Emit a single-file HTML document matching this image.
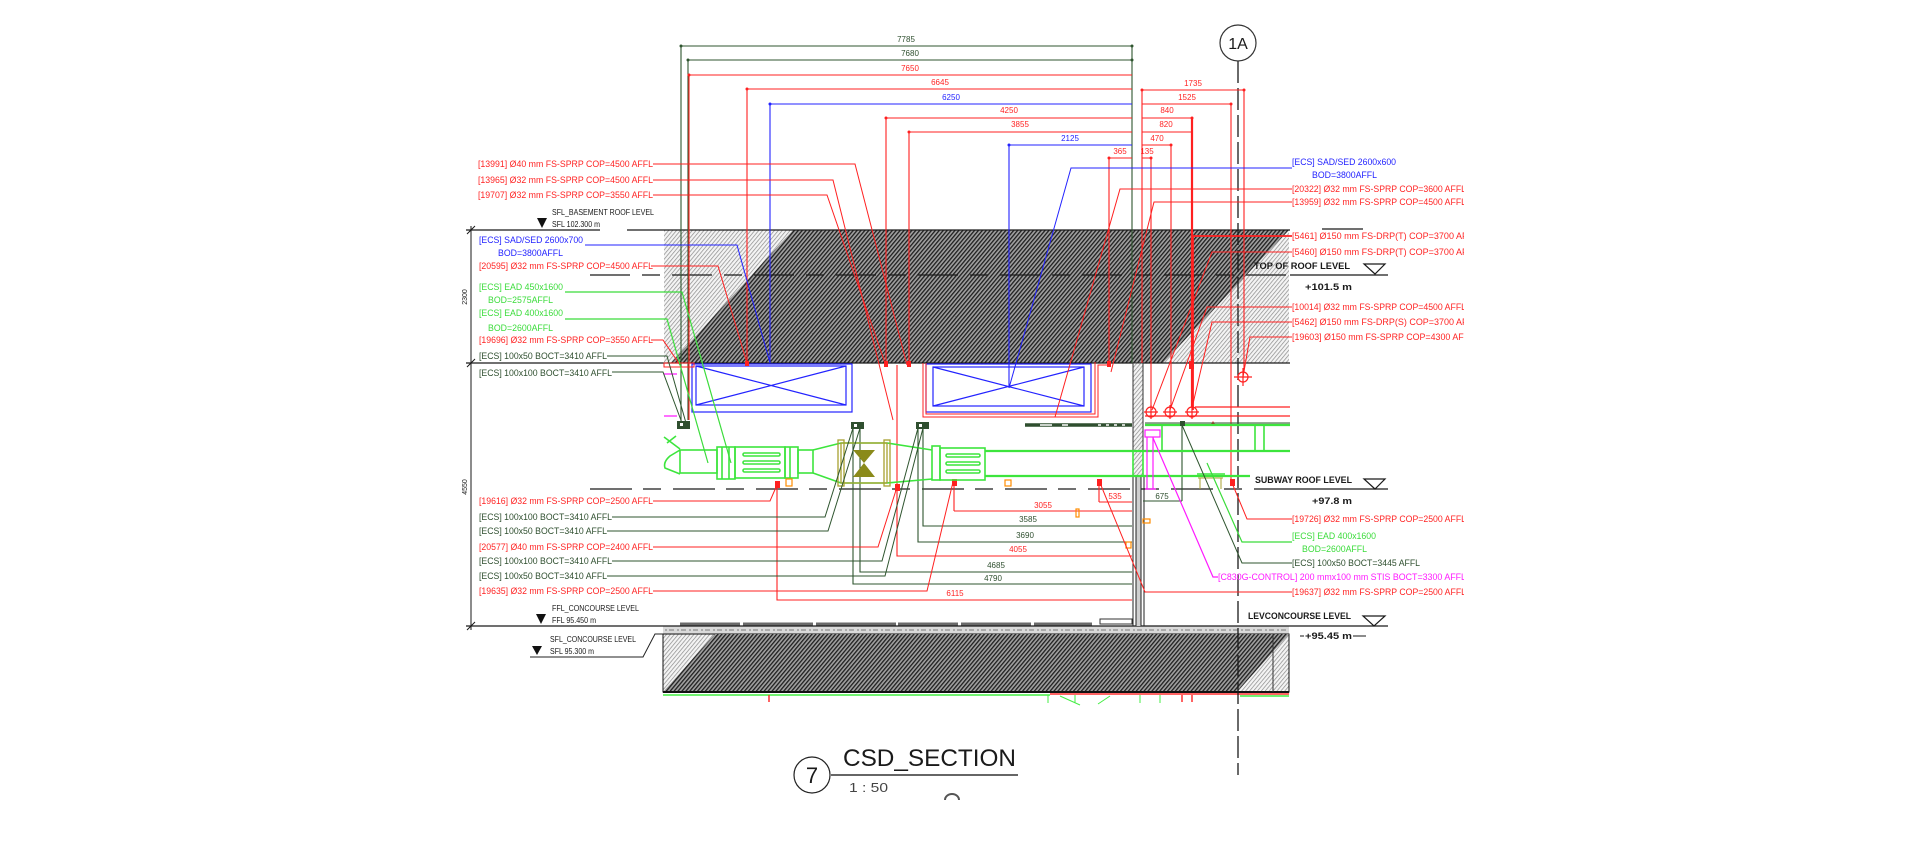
<!DOCTYPE html>
<html><head><meta charset="utf-8"><style>
html,body{margin:0;padding:0;background:#fff;}
svg{display:block;}
text{font-family:"Liberation Sans",sans-serif;}
.r{fill:#ff2424}.b{fill:#2323ff}.g{fill:#3bdc3b}.d{fill:#2f4f2f}.k{fill:#1a1a1a}.m{fill:#ff1aff}
</style></head><body>
<svg width="1921" height="841" viewBox="0 0 1921 841" xmlns="http://www.w3.org/2000/svg">
<defs>
<pattern id="hd" width="3" height="3" patternUnits="userSpaceOnUse" patternTransform="rotate(40)">
<rect width="3" height="3" fill="#a0a0a0"/><rect width="1.3" height="3" fill="#1e1e1e"/></pattern>
<pattern id="hl" width="3" height="3" patternUnits="userSpaceOnUse" patternTransform="rotate(40)">
<rect width="3" height="3" fill="#f4f4f4"/><rect width="0.7" height="3" fill="#8a8a8a"/></pattern>
<clipPath id="cr"><rect x="0" y="0" width="1464" height="841"/></clipPath>
</defs>
<rect width="1921" height="841" fill="#fff"/>

<!-- top slab -->
<rect x="664" y="230" width="625" height="133" fill="url(#hl)"/>
<polygon points="793,230 1289,230 1163,363 671,363" fill="url(#hd)"/>
<!-- bottom slab -->
<rect x="663" y="626" width="626" height="8" fill="#dadada"/>
<path d="M665,630H1289" stroke="#aaa" stroke-width="2" stroke-dasharray="2 2 5 3"/>
<rect x="663" y="634" width="626" height="58" fill="url(#hl)" stroke="#111" stroke-width="1"/>
<polygon points="715,634 1289,634 1237,692 663,692" fill="url(#hd)"/>
<path d="M663,692H1289" stroke="#111" stroke-width="2"/>
<path d="M1273,634V692" stroke="#333"/>
<path d="M530,657H643L655,634H663" stroke="#222" fill="none"/>
<path d="M680,624H1092" stroke="#6a6a6a" stroke-width="3" stroke-dasharray="60 3 70 3 80 2"/>
<!-- below slab -->
<path d="M663,695H1050" stroke="#44ee44" stroke-width="1.5"/>
<path d="M1050,694H1289" stroke="#ff3030" stroke-width="1.5"/>
<path d="M1240,696H1289" stroke="#44ee44" stroke-width="1.5"/>
<path d="M1048,695V703 M1075,695V703 M1140,695V703 M1160,695V703 M1060,696L1080,705 M1098,704L1110,696" stroke="#44ee44"/>
<path d="M769,695V702 M1182,695V702 M1192,695V702" stroke="#ff3030" stroke-width="1.5"/>

<!-- levels lines -->
<g stroke="#1a1a1a" fill="none">
<path d="M466,230H600 M627,230H1290 M1322,229H1363" stroke-width="1.2"/>
<path d="M466,363H1290" stroke-width="1.2"/>
<path d="M466,626H1388" stroke-width="1.2"/>
<path d="M471,226V630 M467,234L475,226 M467,367L475,359 M467,630L475,622"/>
<path d="M590,275H1290" stroke-width="1.3" stroke-dasharray="40 12 18 12"/>
<path d="M1290,275H1388" stroke-width="1.2"/>
<path d="M590,489H1290" stroke-width="1.3" stroke-dasharray="42 11 18 12"/>
<path d="M1290,489H1388" stroke-width="1.2"/>
<path d="M1364,264H1385L1375,274Z M1364,479H1385L1375,489Z M1363,616H1385L1374,626Z" stroke-width="1.2"/>
<path d="M1238,61V775" stroke-width="1.3" stroke-dasharray="22 5"/>
<path d="M1300,636H1304 M1353,636H1366"/>
</g>
<polygon points="537,218 547,218 542,228" fill="#111"/>
<polygon points="536,614 546,614 541,624" fill="#111"/>
<polygon points="532,646 542,646 537,655" fill="#111"/>
<text transform="translate(467,297) rotate(-90)" text-anchor="middle" font-size="7" class="k">2300</text>
<text transform="translate(467,487) rotate(-90)" text-anchor="middle" font-size="7" class="k">4550</text>

<!-- column -->
<rect x="1133" y="363" width="10" height="113" fill="url(#hl)" stroke="#333"/>
<rect x="1136" y="476" width="5" height="150" fill="#cfcfcf"/>
<path d="M1133,476V626 M1136,476V626 M1141,476V626 M1144,476V626" stroke="#222"/>
<rect x="1100" y="619" width="32" height="5" fill="none" stroke="#333"/>

<!-- blue boxes -->
<g stroke="#2323ff" fill="none" stroke-width="1.2">
<rect x="692" y="364" width="160" height="48"/>
<rect x="696" y="366" width="150" height="39"/>
<path d="M696,366L846,405 M696,405L846,366"/>
<rect x="926" y="364" width="165" height="48"/>
<rect x="933" y="367" width="151" height="39"/>
<path d="M933,367L1084,406 M933,406L1084,367"/>
</g>

<!-- dimension lines top -->
<g fill="none" stroke-width="1.1">
<path d="M681,46H1132 M688,60H1132 M681,46V424 M688,60V420 M1132,46V363" stroke="#2f552f"/>
<path d="M689,75H1132 M747,89H1132 M886,118H1132 M909,132H1132 M1109,158H1132 M689,75V420 M747,89V366 M886,118V366 M909,132V366 M1109,158V366" stroke="#ff2020"/>
<path d="M1142,90H1244 M1142,104H1231 M1142,118H1192 M1142,132H1191 M1142,145H1171 M1142,158H1151 M1142,90V363 M1244,90V372 M1231,104V483 M1171,145V407 M1151,158V407" stroke="#ff2020"/>
<path d="M1192,118V407" stroke="#ff2020" stroke-width="2.2"/>
<path d="M770,104H1132 M770,104V363 M1009,145H1132 M1009,145V388" stroke="#2323ff"/>
</g>
<g fill="#ff2020">
<circle cx="689" cy="75" r="1.5"/><circle cx="747" cy="89" r="1.5"/><circle cx="886" cy="118" r="1.5"/><circle cx="909" cy="132" r="1.5"/><circle cx="1109" cy="158" r="1.5"/>
<circle cx="1142" cy="90" r="1.5"/><circle cx="1244" cy="90" r="1.5"/><circle cx="1231" cy="104" r="1.5"/><circle cx="1192" cy="118" r="1.5"/><circle cx="1171" cy="145" r="1.5"/><circle cx="1151" cy="158" r="1.5"/>
<rect x="745" y="361" width="4" height="5"/><rect x="884" y="361" width="4" height="6"/><rect x="907" y="361" width="4" height="6"/><rect x="1107" y="361" width="4" height="6"/><rect x="1189" y="361" width="5" height="8"/>
<rect x="775" y="481" width="5" height="7"/><rect x="895" y="484" width="5" height="7"/><rect x="952" y="479" width="5" height="7"/><rect x="1097" y="479" width="5" height="7"/><rect x="1230" y="479" width="5" height="7"/>
<polygon points="1210,426 1216,426 1213,421"/>
</g>
<g fill="#2f552f"><circle cx="681" cy="46" r="1.5"/><circle cx="688" cy="60" r="1.5"/><circle cx="1132" cy="46" r="1.5"/><circle cx="1132" cy="60" r="1.5"/></g>
<g fill="#2323ff"><circle cx="770" cy="104" r="1.5"/><circle cx="1009" cy="145" r="1.5"/></g>

<!-- dim texts -->
<g font-size="8" text-anchor="middle">
<text x="906" y="42" class="d">7785</text>
<text x="910" y="56" class="d">7680</text>
<text x="910" y="71" class="r">7650</text>
<text x="940" y="85" class="r">6645</text>
<text x="951" y="100" class="b">6250</text>
<text x="1009" y="113" class="r">4250</text>
<text x="1020" y="127" class="r">3855</text>
<text x="1070" y="141" class="b">2125</text>
<text x="1120" y="154" class="r">365</text>
<text x="1193" y="86" class="r">1735</text>
<text x="1187" y="100" class="r">1525</text>
<text x="1167" y="113" class="r">840</text>
<text x="1166" y="127" class="r">820</text>
<text x="1157" y="141" class="r">470</text>
<text x="1147" y="154" class="r">135</text>
<text x="1115" y="499" class="r">535</text>
<text x="1162" y="499" class="d">675</text>
<text x="1043" y="508" class="r">3055</text>
<text x="1028" y="522" class="d">3585</text>
<text x="1025" y="538" class="d">3690</text>
<text x="1018" y="552" class="r">4055</text>
<text x="996" y="568" class="d">4685</text>
<text x="993" y="581" class="d">4790</text>
<text x="955" y="596" class="r">6115</text>
</g>

<!-- lower dims -->
<g fill="none" stroke-width="1.1">
<path d="M1099,502H1132 M1099,483V502 M954,511H1132 M954,483V511 M897,365V556H1132 M777,485V600H1132" stroke="#ff2020"/>
<path d="M923,428V526H1132 M918,428V542H1132 M860,428V572H1132 M853,428V584H1132 M1143,501H1182 M1182,425V501" stroke="#2f552f"/>
</g>

<!-- red L lines around box 2 -->
<path d="M923,363V417H1098V365H1111 M926,363V414H1095V362" stroke="#ff2020" fill="none"/>
<rect x="664" y="363" width="30" height="4" fill="none" stroke="#ff2020"/>

<!-- duct -->
<g fill="none" stroke="#3de53d" stroke-width="1.6">
<path d="M664,437L680,449 M667,443L676,436"/>
<path d="M680,450L670,456Q663,462 665,468L680,474"/>
<rect x="680" y="450" width="37" height="23"/>
<rect x="717" y="447" width="18" height="32"/>
<path d="M722,447V479 M729,447V479"/>
<rect x="735" y="447" width="50" height="31"/>
<rect x="743" y="453" width="37" height="3" rx="1.5"/>
<rect x="743" y="461" width="37" height="3" rx="1.5"/>
<rect x="743" y="469" width="37" height="3" rx="1.5"/>
<rect x="785" y="447" width="13" height="31"/>
<path d="M790,447V478"/>
<rect x="798" y="450" width="15" height="23"/>
<path d="M813,450L841,443 M813,473L841,483 M841,443H887 M841,483H887"/>
<path d="M887,443L932,450 M887,483L932,479"/>
<rect x="932" y="446" width="8" height="34"/>
<rect x="940" y="448" width="45" height="32"/>
<rect x="946" y="454" width="34" height="3" rx="1.5"/>
<rect x="946" y="462" width="34" height="3" rx="1.5"/>
<rect x="946" y="470" width="34" height="3" rx="1.5"/>
<path d="M985,451H1290 M985,476H1250" stroke-width="2.2"/>
<path d="M1145,425H1290" stroke-width="2.2"/>
<path d="M1162,425V451 M1255,425V451 M1264,425V451"/>
<rect x="1133" y="451" width="10" height="25"/>
<path d="M1197,474H1225"/>
</g>
<path d="M1145,423H1290" stroke="#2f552f"/>
<path d="M1200,478V489 M1221,478V489 M1198,478H1223" stroke="#a8a030"/>
<g stroke="#a8a030" fill="none" stroke-width="1.3">
<rect x="841" y="443" width="46" height="40"/>
<rect x="838" y="440" width="6" height="46"/>
<rect x="884" y="440" width="6" height="46"/>
</g>
<path d="M853,450H875L864,463L875,477H853L864,463Z" fill="#8a8a1a"/>

<!-- dark green dashed top line -->
<path d="M1025,425H1132" stroke="#2f4f2f" stroke-width="3.5"/>
<path d="M1040,425H1052 M1062,425H1068 M1098,425H1101 M1106,425H1109 M1114,425H1117 M1122,425H1125" stroke="#fff" stroke-width="1.5"/>

<!-- dark green symbols -->
<g fill="#2f4f2f">
<rect x="677" y="421" width="13" height="8"/><rect x="851" y="422" width="13" height="7"/><rect x="916" y="422" width="13" height="7"/><rect x="1180" y="421" width="5" height="5"/>
</g>
<g fill="#fff"><rect x="680" y="423" width="3" height="3"/><rect x="854" y="424" width="3" height="3"/><rect x="919" y="424" width="3" height="3"/></g>

<!-- orange -->
<g fill="none" stroke="#ff8c00" stroke-width="1.2">
<rect x="786" y="479" width="6" height="7"/><rect x="1005" y="480" width="6" height="6"/><rect x="1076" y="509" width="3" height="8"/><rect x="1126" y="542" width="5" height="6"/><rect x="1143" y="519" width="7" height="4"/>
</g>

<!-- magenta -->
<g fill="none" stroke="#ff1aff" stroke-width="1.2">
<path d="M664,374H677 M664,416H677"/>
<rect x="1145" y="430" width="15" height="7"/>
<path d="M1147,437V489 M1153,437V489 M1145,489H1156"/>
<path d="M1218,577H1213L1153,438"/>
</g>

<!-- sprinklers -->
<g fill="none" stroke="#ff2020" stroke-width="1.2">
<circle cx="1151" cy="412" r="5"/><circle cx="1170" cy="412" r="5"/><circle cx="1192" cy="412" r="5"/><circle cx="1243" cy="377" r="5"/>
<path d="M1144,412H1158 M1151,405V419 M1163,412H1177 M1170,405V419 M1185,412H1199 M1192,405V419 M1234,377H1252 M1243,368V386"/>
<path d="M1195,407H1290 M1145,416H1290"/>
</g>

<!-- leaders -->
<g fill="none" stroke-width="1">
<path stroke="#ff2020" d="M653,164H855L907,365 M653,180H833L893,420 M653,195H827L886,366 M651,266H718L747,363 M651,340H663L680,365 M653,501H770L777,485 M653,547H878L897,487 M653,591H927L953,482 M1292,189H1120L1055,417 M1292,202H1154L1111,372 M1292,252H1212L1152,410 M1292,307H1207L1170,410 M1292,322H1212L1192,408 M1292,337H1250L1243,377 M1292,519H1247L1232,483 M1292,592H1145L1100,483"/>
<path stroke="#ff2020" stroke-width="1.8" d="M1292,236H1193V410"/>
<path stroke="#2323ff" d="M585,245H737L770,363 M1292,168H1071L1009,388"/>
<path stroke="#3bdc3b" stroke-width="1.2" d="M565,292H682L731,463 M565,319H667L708,463 M1292,542H1242L1207,463"/>
<path stroke="#2f552f" d="M607,356H667L686,423 M612,372H663L682,423 M612,517H825L853,428 M607,531H828L860,428 M612,561H882L918,428 M607,576H885L923,428 M1292,563H1242L1182,425"/>
</g>

<!-- left labels -->
<g font-size="9">
<text x="478" y="167" class="r" textLength="175" lengthAdjust="spacingAndGlyphs">[13991] Ø40 mm FS-SPRP COP=4500 AFFL</text>
<text x="478" y="183" class="r" textLength="175" lengthAdjust="spacingAndGlyphs">[13965] Ø32 mm FS-SPRP COP=4500 AFFL</text>
<text x="478" y="198" class="r" textLength="175" lengthAdjust="spacingAndGlyphs">[19707] Ø32 mm FS-SPRP COP=3550 AFFL</text>
<text x="479" y="243" class="b" textLength="104" lengthAdjust="spacingAndGlyphs">[ECS] SAD/SED 2600x700</text>
<text x="498" y="256" class="b" textLength="65" lengthAdjust="spacingAndGlyphs">BOD=3800AFFL</text>
<text x="479" y="269" class="r" textLength="174" lengthAdjust="spacingAndGlyphs">[20595] Ø32 mm FS-SPRP COP=4500 AFFL</text>
<text x="479" y="290" class="g" textLength="84" lengthAdjust="spacingAndGlyphs">[ECS] EAD 450x1600</text>
<text x="488" y="303" class="g" textLength="65" lengthAdjust="spacingAndGlyphs">BOD=2575AFFL</text>
<text x="479" y="316" class="g" textLength="84" lengthAdjust="spacingAndGlyphs">[ECS] EAD 400x1600</text>
<text x="488" y="331" class="g" textLength="65" lengthAdjust="spacingAndGlyphs">BOD=2600AFFL</text>
<text x="479" y="343" class="r" textLength="174" lengthAdjust="spacingAndGlyphs">[19696] Ø32 mm FS-SPRP COP=3550 AFFL</text>
<text x="479" y="359" class="d" textLength="128" lengthAdjust="spacingAndGlyphs">[ECS] 100x50 BOCT=3410 AFFL</text>
<text x="479" y="376" class="d" textLength="133" lengthAdjust="spacingAndGlyphs">[ECS] 100x100 BOCT=3410 AFFL</text>
<text x="479" y="504" class="r" textLength="174" lengthAdjust="spacingAndGlyphs">[19616] Ø32 mm FS-SPRP COP=2500 AFFL</text>
<text x="479" y="520" class="d" textLength="133" lengthAdjust="spacingAndGlyphs">[ECS] 100x100 BOCT=3410 AFFL</text>
<text x="479" y="534" class="d" textLength="128" lengthAdjust="spacingAndGlyphs">[ECS] 100x50 BOCT=3410 AFFL</text>
<text x="479" y="550" class="r" textLength="174" lengthAdjust="spacingAndGlyphs">[20577] Ø40 mm FS-SPRP COP=2400 AFFL</text>
<text x="479" y="564" class="d" textLength="133" lengthAdjust="spacingAndGlyphs">[ECS] 100x100 BOCT=3410 AFFL</text>
<text x="479" y="579" class="d" textLength="128" lengthAdjust="spacingAndGlyphs">[ECS] 100x50 BOCT=3410 AFFL</text>
<text x="479" y="594" class="r" textLength="174" lengthAdjust="spacingAndGlyphs">[19635] Ø32 mm FS-SPRP COP=2500 AFFL</text>
</g>
<g font-size="8" class="k">
<text x="552" y="215" textLength="102" lengthAdjust="spacingAndGlyphs">SFL_BASEMENT ROOF LEVEL</text>
<text x="552" y="227" textLength="48" lengthAdjust="spacingAndGlyphs">SFL 102.300 m</text>
<text x="552" y="611" textLength="87" lengthAdjust="spacingAndGlyphs">FFL_CONCOURSE LEVEL</text>
<text x="552" y="623" textLength="44" lengthAdjust="spacingAndGlyphs">FFL 95.450 m</text>
<text x="550" y="642" textLength="86" lengthAdjust="spacingAndGlyphs">SFL_CONCOURSE LEVEL</text>
<text x="550" y="654" textLength="44" lengthAdjust="spacingAndGlyphs">SFL 95.300 m</text>
</g>

<!-- right labels -->
<g font-size="9" clip-path="url(#cr)">
<text x="1292" y="165" class="b" textLength="104" lengthAdjust="spacingAndGlyphs">[ECS] SAD/SED 2600x600</text>
<text x="1312" y="178" class="b" textLength="65" lengthAdjust="spacingAndGlyphs">BOD=3800AFFL</text>
<text x="1292" y="192" class="r" textLength="174" lengthAdjust="spacingAndGlyphs">[20322] Ø32 mm FS-SPRP COP=3600 AFFL</text>
<text x="1292" y="205" class="r" textLength="174" lengthAdjust="spacingAndGlyphs">[13959] Ø32 mm FS-SPRP COP=4500 AFFL</text>
<text x="1292" y="239" class="r" textLength="186" lengthAdjust="spacingAndGlyphs">[5461] Ø150 mm FS-DRP(T) COP=3700 AFFL</text>
<text x="1292" y="255" class="r" textLength="186" lengthAdjust="spacingAndGlyphs">[5460] Ø150 mm FS-DRP(T) COP=3700 AFFL</text>
<text x="1292" y="310" class="r" textLength="174" lengthAdjust="spacingAndGlyphs">[10014] Ø32 mm FS-SPRP COP=4500 AFFL</text>
<text x="1292" y="325" class="r" textLength="186" lengthAdjust="spacingAndGlyphs">[5462] Ø150 mm FS-DRP(S) COP=3700 AFFL</text>
<text x="1292" y="340" class="r" textLength="182" lengthAdjust="spacingAndGlyphs">[19603] Ø150 mm FS-SPRP COP=4300 AFFL</text>
<text x="1292" y="522" class="r" textLength="174" lengthAdjust="spacingAndGlyphs">[19726] Ø32 mm FS-SPRP COP=2500 AFFL</text>
<text x="1292" y="539" class="g" textLength="84" lengthAdjust="spacingAndGlyphs">[ECS] EAD 400x1600</text>
<text x="1302" y="552" class="g" textLength="65" lengthAdjust="spacingAndGlyphs">BOD=2600AFFL</text>
<text x="1292" y="566" class="d" textLength="128" lengthAdjust="spacingAndGlyphs">[ECS] 100x50 BOCT=3445 AFFL</text>
<text x="1218" y="580" class="m" textLength="248" lengthAdjust="spacingAndGlyphs">[C830G-CONTROL] 200 mmx100 mm STIS BOCT=3300 AFFL</text>
<text x="1292" y="595" class="r" textLength="174" lengthAdjust="spacingAndGlyphs">[19637] Ø32 mm FS-SPRP COP=2500 AFFL</text>
</g>
<g font-size="9" font-weight="bold" class="k">
<text x="1254" y="269" textLength="96" lengthAdjust="spacingAndGlyphs">TOP OF ROOF LEVEL</text>
<text x="1305" y="290" textLength="47" lengthAdjust="spacingAndGlyphs">+101.5 m</text>
<text x="1255" y="483" textLength="97" lengthAdjust="spacingAndGlyphs">SUBWAY ROOF LEVEL</text>
<text x="1312" y="504" textLength="40" lengthAdjust="spacingAndGlyphs">+97.8 m</text>
<text x="1248" y="619" textLength="103" lengthAdjust="spacingAndGlyphs">LEVCONCOURSE LEVEL</text>
<text x="1305" y="639" textLength="47" lengthAdjust="spacingAndGlyphs">+95.45 m</text>
</g>

<!-- grid bubble -->
<circle cx="1238" cy="43" r="18" fill="#fff" stroke="#333" stroke-width="1.2"/>
<text x="1238" y="49" text-anchor="middle" font-size="16" class="k">1A</text>

<!-- title -->
<circle cx="812" cy="775" r="18" fill="none" stroke="#222" stroke-width="1.2"/>
<text x="812" y="783" text-anchor="middle" font-size="22" class="k">7</text>
<text x="843" y="766" font-size="24" class="k" textLength="173" lengthAdjust="spacingAndGlyphs">CSD_SECTION</text>
<path d="M831,775H1018" stroke="#333" stroke-width="1.5"/>
<text x="849" y="792" font-size="13" fill="#444" textLength="39" lengthAdjust="spacingAndGlyphs">1 : 50</text>
<path d="M945,800A7,6 0 0 1 959,800" fill="none" stroke="#555" stroke-width="2"/>
</svg>
</body></html>
